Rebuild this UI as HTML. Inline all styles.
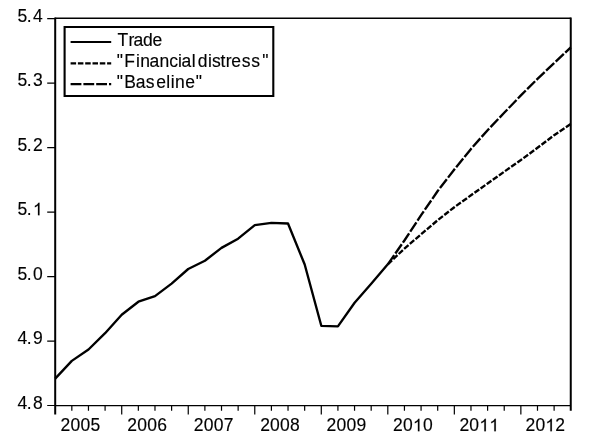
<!DOCTYPE html>
<html><head><meta charset="utf-8"><title>Chart</title>
<style>html,body{margin:0;padding:0;background:#fff}svg{display:block}</style></head>
<body>
<svg width="600" height="445" viewBox="0 0 600 445">
<rect width="600" height="445" fill="#fff"/>
<g fill="none" stroke="#000">
<path d="M55.20 17.60V414.60M570.75 17.60V410.80" stroke-width="2"/>
<path d="M55.20 18.30H570.75M55.20 405.65H570.75" stroke-width="1.4"/>
<path d="M47.2 18.70H55.20M47.2 83.17H55.20M47.2 147.63H55.20M47.2 212.10H55.20M47.2 276.57H55.20M47.2 341.03H55.20M47.2 405.50H55.20" stroke-width="1.2"/>
<path d="M71.83 405.65V410.80M88.46 405.65V410.80M105.09 405.65V410.80M121.72 405.65V414.60M138.35 405.65V410.80M154.98 405.65V410.80M171.61 405.65V410.80M188.25 405.65V414.60M204.88 405.65V410.80M221.51 405.65V410.80M238.14 405.65V410.80M254.77 405.65V414.60M271.40 405.65V410.80M288.03 405.65V410.80M304.66 405.65V410.80M321.29 405.65V414.60M337.92 405.65V410.80M354.55 405.65V410.80M371.18 405.65V410.80M387.81 405.65V414.60M404.44 405.65V410.80M421.07 405.65V410.80M437.70 405.65V410.80M454.34 405.65V414.60M470.97 405.65V410.80M487.60 405.65V410.80M504.23 405.65V410.80M520.86 405.65V414.60M537.49 405.65V410.80M554.12 405.65V410.80" stroke-width="1.2"/>
</g>
<g fill="none" stroke="#000" stroke-width="2.35" stroke-linejoin="round">
<polyline points="55.2,378.6 71.8,360.9 88.5,349.5 105.1,333.2 121.7,314.7 138.4,301.7 155.0,296.1 171.6,283.6 188.2,269.0 204.9,260.7 221.5,247.9 238.1,238.7 254.8,225.1 271.4,222.9 288.0,223.5 304.7,264.5 321.3,325.8 337.9,326.4 354.6,302.8 371.2,283.7 387.8,264.3"/>
<polyline points="387.8,264.3 404.4,240.5 421.1,215.2 437.7,191.0 454.3,169.5 471.0,148.9 487.6,130.2 504.2,112.8 520.9,95.4 537.5,78.8 554.1,63.2 570.8,47.3" stroke-dasharray="11.2 2"/>
<polyline points="387.8,264.3 404.4,248.6 421.1,234.3 437.7,220.2 454.3,207.2 471.0,195.3 487.6,183.5 504.2,171.7 520.9,160.0 537.5,147.8 554.1,135.2 570.8,124.0" stroke-dasharray="5.75 1.75"/>
</g>
<rect x="64.60" y="27.00" width="208.70" height="69.00" fill="#fff"/>
<g fill="none" stroke="#000">
<path d="M64.60 26.10V96.90M273.30 26.10V96.90" stroke-width="2.1"/>
<path d="M64.60 27.00H273.30M64.60 96.00H273.30" stroke-width="1.8"/>
</g>
<g fill="none" stroke="#000" stroke-width="2.2">
<line x1="70.6" y1="42.0" x2="111.2" y2="42.0"/>
<line x1="70.6" y1="63.3" x2="111.2" y2="63.3" stroke-dasharray="5.5 1.8"/>
<line x1="70.6" y1="84.1" x2="111.2" y2="84.1" stroke-dasharray="10.8 2"/>
</g>
<g font-family="'Liberation Sans', sans-serif" font-size="17.5px" fill="#000" stroke="#000" stroke-width="0.15" opacity="0.999">
<text x="117.61 128.60 133.39 143.11 152.53" y="46.00">Trade</text>
<text x="116.77 124.14 136.01 140.35 149.51 159.62 169.21 178.01 181.39 191.80 197.71 208.01 211.95 220.50 225.65 231.13 241.65 251.32 262.27" y="66.60">&quot;Financialdistress&quot;</text>
<text x="116.77 124.28 135.64 145.65 156.13 166.30 170.81 175.07 185.30 195.79" y="87.75">&quot;Baseline&quot;</text>
<text x="17.55 26.77 32.97" y="21.90">5.4</text>
<text x="17.55 26.77 32.97" y="86.37">5.3</text>
<text x="17.55 26.77 32.97" y="150.83">5.2</text>
<path d="M763 0H583V1147Q518 1085 412.5 1023T223 930V1104Q373 1174.5 485 1274.5T644 1469H763Z" transform="translate(32.97 215.30) scale(0.00854 -0.00854)" stroke-width="17.6"/><text x="17.55 26.77" y="215.30">5.</text>
<text x="17.55 26.77 32.97" y="279.77">5.0</text>
<text x="17.55 26.77 32.97" y="344.23">4.9</text>
<text x="17.55 26.77 32.97" y="408.70">4.8</text>
<text x="60.48 70.45 80.42 90.39" y="431.30">2005</text>
<text x="127.30 137.27 147.24 157.21" y="431.30">2006</text>
<text x="193.72 203.69 213.66 223.63" y="431.30">2007</text>
<text x="260.14 270.11 280.08 290.05" y="431.30">2008</text>
<text x="326.56 336.53 346.50 356.47" y="431.30">2009</text>
<path d="M763 0H583V1147Q518 1085 412.5 1023T223 930V1104Q373 1174.5 485 1274.5T644 1469H763Z" transform="translate(412.92 431.30) scale(0.00854 -0.00854)" stroke-width="17.6"/><text x="392.98 402.95 422.89" y="431.30">200</text>
<path d="M763 0H583V1147Q518 1085 412.5 1023T223 930V1104Q373 1174.5 485 1274.5T644 1469H763Z" transform="translate(479.34 431.30) scale(0.00854 -0.00854)" stroke-width="17.6"/><path d="M763 0H583V1147Q518 1085 412.5 1023T223 930V1104Q373 1174.5 485 1274.5T644 1469H763Z" transform="translate(489.31 431.30) scale(0.00854 -0.00854)" stroke-width="17.6"/><text x="459.40 469.37" y="431.30">20</text>
<path d="M763 0H583V1147Q518 1085 412.5 1023T223 930V1104Q373 1174.5 485 1274.5T644 1469H763Z" transform="translate(545.36 431.30) scale(0.00854 -0.00854)" stroke-width="17.6"/><text x="525.42 535.39 555.33" y="431.30">202</text>
</g>
</svg>
</body></html>
